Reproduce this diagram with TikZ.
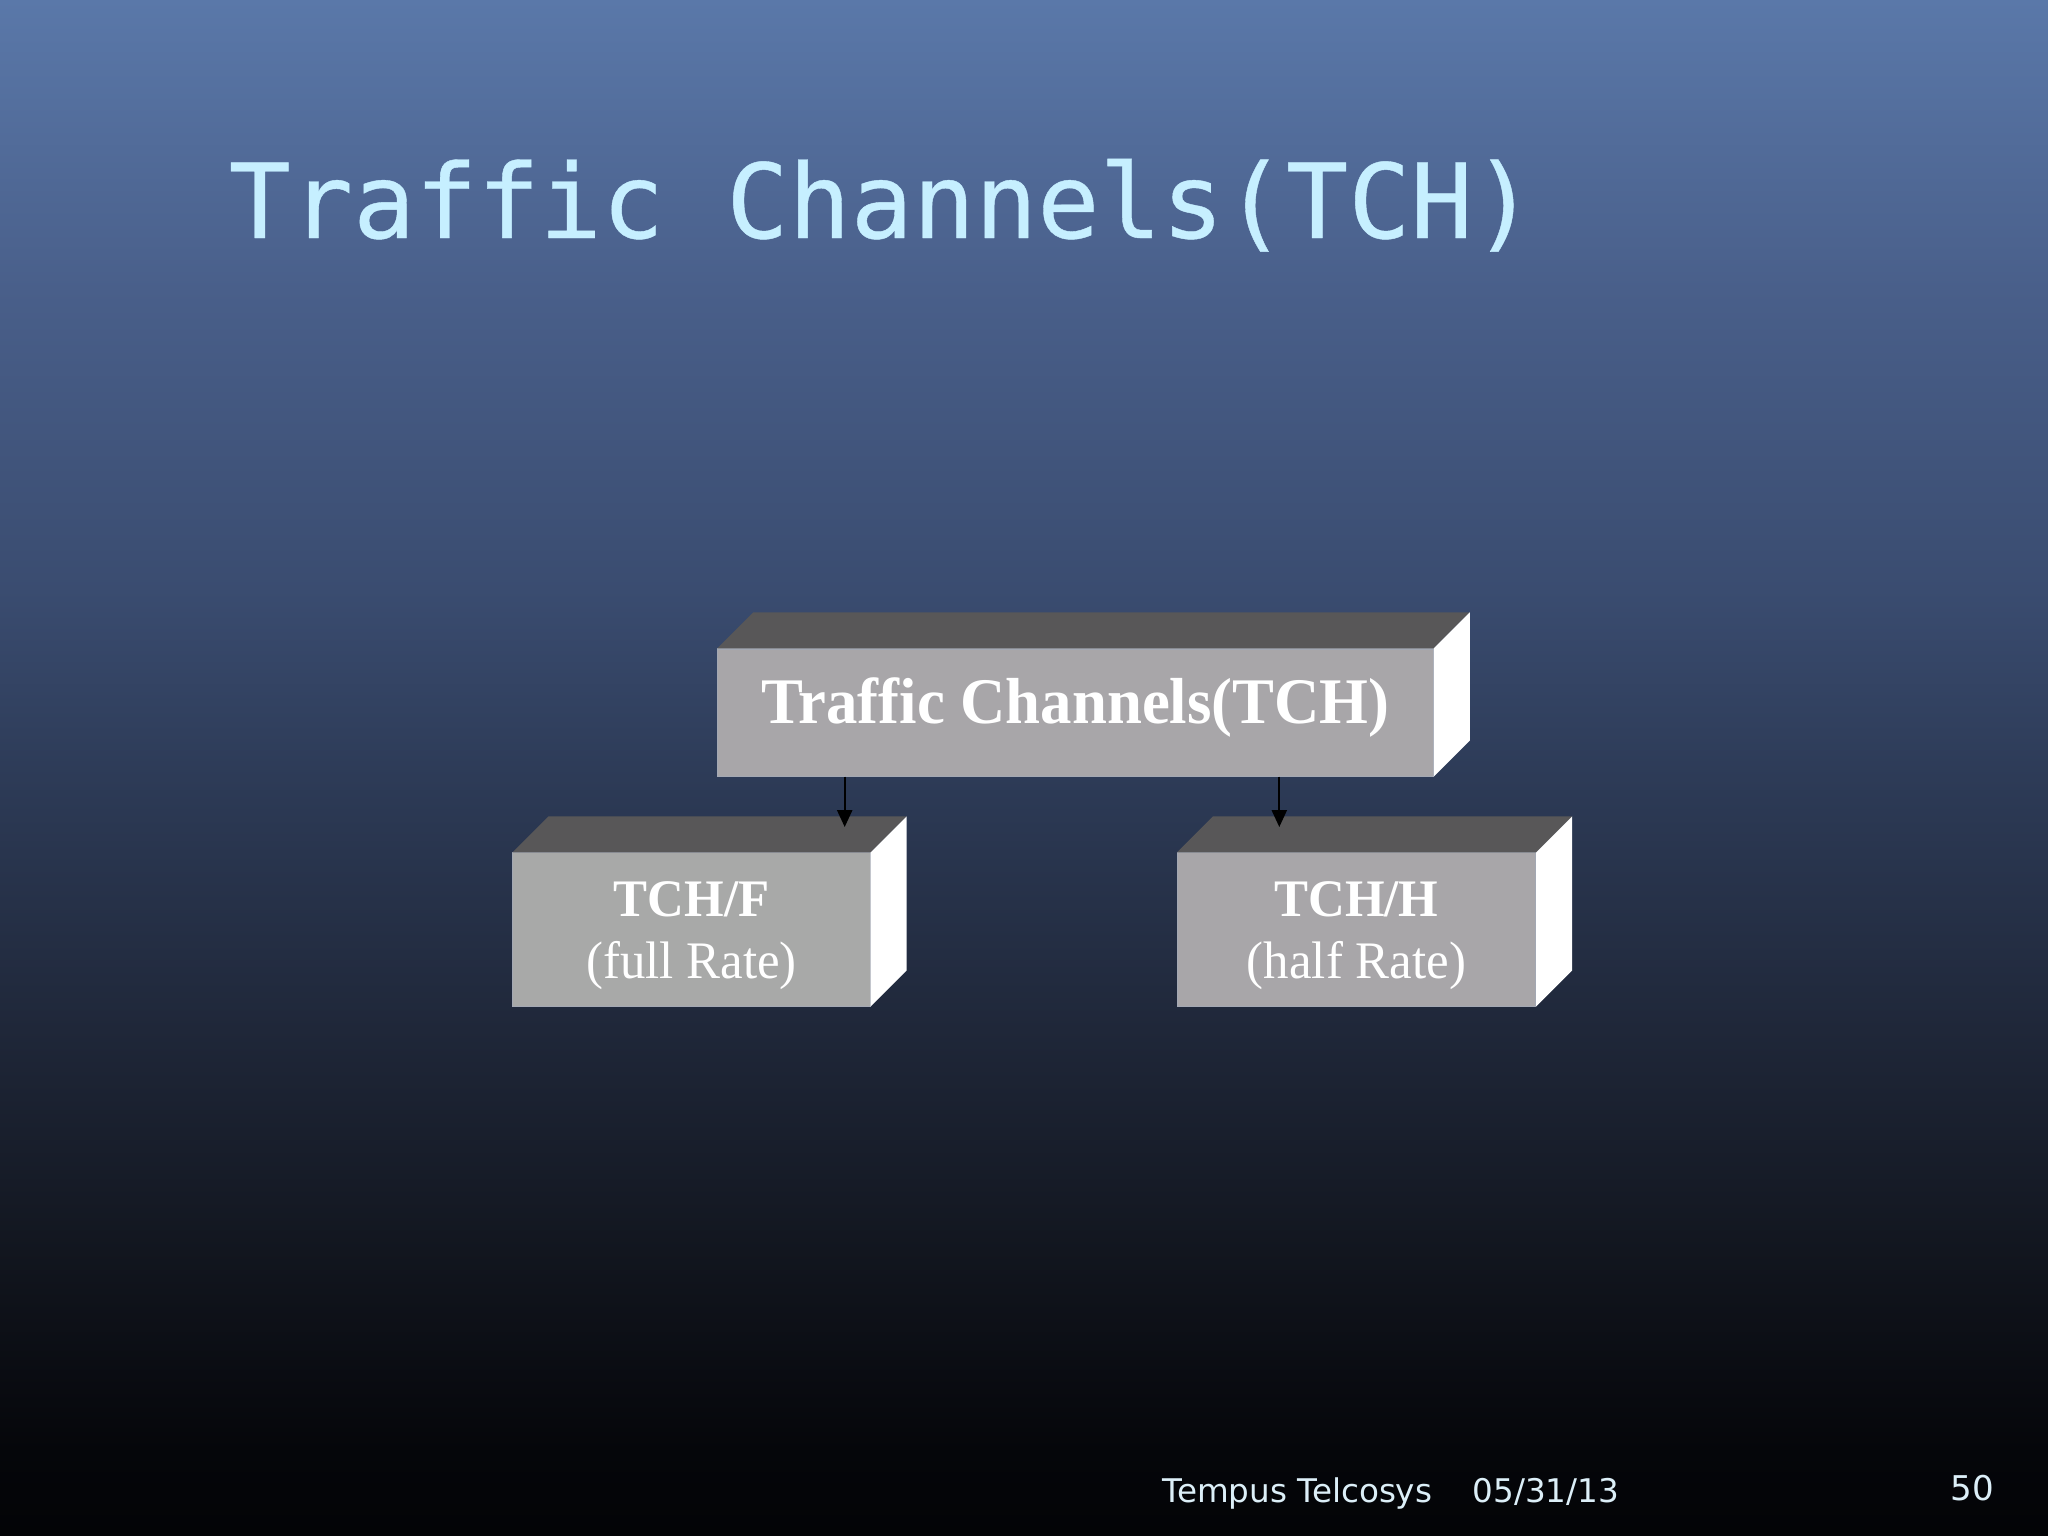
\documentclass[tikz,border=0pt]{standalone}
\usepackage{fontspec}
\usepackage{tikz}
\usetikzlibrary{arrows.meta}
\setmainfont[FakeStretch=0.965]{Liberation Serif}
\newfontfamily\titlefont[FakeBold=0.4]{DejaVu Sans Mono}
\newfontfamily\footfont{DejaVu Sans}
\definecolor{bgA}{HTML}{030406}
\definecolor{bgB}{HTML}{05060A}
\definecolor{bgC}{HTML}{12161F}
\definecolor{bgD}{HTML}{1F2739}
\definecolor{bgE}{HTML}{2D3B57}
\definecolor{bgF}{HTML}{3A4C70}
\definecolor{bgG}{HTML}{495F8A}
\definecolor{bgH}{HTML}{5A78A9}
\definecolor{boxfront}{HTML}{A8A6A9}
\definecolor{boxfrontleft}{HTML}{A8A9A8}
\definecolor{boxedge}{HTML}{A3A8B3}
\definecolor{boxtop}{HTML}{585758}
\definecolor{titleblue}{HTML}{C6EFFF}
\definecolor{footblue}{HTML}{DCEFF8}
\pgfdeclareverticalshading{slidebg}{100bp}{
  color(0bp)=(bgA); color(25bp)=(bgA); color(27.8bp)=(bgB); color(34.3bp)=(bgC);
  color(41.5bp)=(bgD); color(49.7bp)=(bgE); color(55.8bp)=(bgF); color(65.6bp)=(bgG);
  color(75bp)=(bgH); color(100bp)=(bgH)}
\begin{document}
\begin{tikzpicture}[
    x=0.01cm, y=-0.01cm,
    frontbox/.style={
% The shape:
      rectangle,
% The border:
      draw=boxedge, line width=0.3pt,
% The filling:
      fill=boxfront,
% Font
      text=white, align=center
    },
    topface/.style={fill=boxtop},
    sideface/.style={fill=white},
    link/.style={-{Triangle[length=4.8pt,width=4.3pt]}, black, line width=0.5pt},
    footer/.style={text=footblue, anchor=base west, inner sep=0pt, font=\footfont\fontsize{9.27}{11}\selectfont}
  ]
  \useasboundingbox (0,0) rectangle (2048,1536);
  \shade[shading=slidebg] (0,0) rectangle (2048,1536);

  \node [text=titleblue, anchor=base west, inner sep=0pt, font=\titlefont\fontsize{29.38}{32}\selectfont]
    (title) at (228,238) {Traffic Channels(TCH)};

  % the three blocks
  \node [frontbox, minimum width=7.15cm, minimum height=1.27cm, text depth=6.9pt, font=\bfseries\fontsize{18.5}{22}\selectfont]
    (channels) at (1075.5,712.5) {Traffic Channels(TCH)};
  \node [frontbox, fill=boxfrontleft, minimum width=3.57cm, minimum height=1.53cm, font=\fontsize{15}{17.6}\selectfont]
    (fullrate) at (691.5,929.5) {\rule{0pt}{13.2pt}\textbf{TCH/F}\\(full Rate)};
  \node [frontbox, minimum width=3.58cm, minimum height=1.53cm, font=\fontsize{15}{17.6}\selectfont]
    (halfrate) at (1356.5,929.5) {\rule{0pt}{13.2pt}\textbf{TCH/H}\\(half Rate)};

  % faces behind them
  \foreach \block in {channels,fullrate,halfrate} {
    \fill [topface] (\block.north west) -- ++(36,-36) -- ([shift={(36,-36)}]\block.north east) -- (\block.north east) -- cycle;
    \fill [sideface] (\block.north east) -- ++(36,-36) -- ([shift={(36,-36)}]\block.south east) -- (\block.south east) -- cycle;
  }

  % the arrows end on the top faces
  \coordinate (fullend) at (844.7,827);
  \coordinate (halfend) at (1279.3,827);
  \draw [link] (channels.south -| fullend) -- (fullend);
  \draw [link] (channels.south -| halfend) -- (halfend);

  \node [footer] (owner) at (1162,1502) {Tempus Telcosys};
  \node [footer] (date) at (1472,1502) {05/31/13};
  \node [footer, font=\footfont\fontsize{9.7}{12}\selectfont] (page) at (1950,1500) {50};
\end{tikzpicture}
\end{document}
